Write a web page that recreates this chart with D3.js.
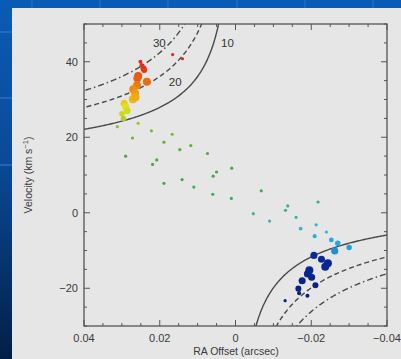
<!DOCTYPE html>
<html>
<head>
<meta charset="utf-8">
<script src="https://cdn.jsdelivr.net/npm/d3@7"></script>
<style>
  html, body { margin: 0; padding: 0; background: #0558b0; }
  svg { display: block; font-family: "Liberation Sans", Arial, sans-serif; }
</style>
</head>
<body>
<svg id="chart" width="401" height="359"></svg>
<script>
// RA offset (arcsec) of each spot
var raOffset = [
  0.0251, 0.0248, 0.0243, 0.0241, 0.0166, 0.0140,
  0.0257, 0.0259, 0.0234, 0.0260, 0.0270, 0.0265, 0.0271, 0.0264,
  0.0294, 0.0290, 0.0286, 0.0300, 0.0296,
  0.0312, 0.0257, 0.0222, 0.0272, 0.0167, 0.0189, 0.0290, 0.0147, 0.0118,
  0.0219, 0.0208, 0.0074, 0.0189, 0.0141, 0.0110, 0.0059, 0.0050, 0.0010,
  0.0060, 0.0011, -0.0068,
  -0.0047, -0.0090, -0.0132, -0.0138, -0.0218, -0.0160, -0.0172, -0.0213,
  -0.0209, -0.0240, -0.0253, -0.0270, -0.0300, -0.0262,
  -0.0207, -0.0227, -0.0244, -0.0237, -0.0195, -0.0190, -0.0201, -0.0176,
  -0.0211, -0.0166, -0.0168, -0.0190, -0.0131
];
// line-of-sight velocity (km/s)
var velocity = [
  40.0, 39.1, 38.3, 37.8, 41.9, 40.8,
  36.2, 35.6, 34.7, 33.8, 32.7, 31.6, 30.05, 30.6,
  29.0, 28.1, 27.0, 26.2, 25.0,
  22.8, 23.7, 21.7, 19.8, 20.8, 18.7, 15.0, 16.7, 17.8,
  12.8, 14.0, 15.7, 7.8, 8.8, 6.8, 9.7, 10.8, 11.8,
  4.9, 3.8, 5.8,
  -0.25, -2.2, 0.65, 1.8, 2.85, -1.2, -4.2, -3.2,
  -6.2, -5.1, -7.2, -8.1, -9.2, -10.1,
  -11.3, -12.3, -13.4, -14.3, -15.2, -16.2, -17.1, -18.0,
  -19.2, -20.1, -21.3, -22.0, -23.3
];
// relative spot brightness (drives marker area)
var brightness = [
  1.5, 1.5, 3, 3, 1, 1,
  5, 5, 5, 5, 5, 5, 5, 5,
  4, 4, 4, 2.5, 2.5,
  1, 1, 1, 1, 1, 1, 1, 1, 1,
  1, 1, 1, 1, 1, 1, 1, 1, 1,
  1, 1, 1,
  1, 1, 1, 1, 1, 1, 1.3, 1,
  1.5, 1, 2, 2.5, 2.5, 4,
  4, 4, 5, 5, 5, 4, 4, 4,
  3, 3, 1.5, 1.5, 1
];

// enclosed-mass curves (labels) and Keplerian amplitude per curve
var curveMass = [10, 20, 30];
var curveK = [2.8, 3.96, 4.85];
var curveDash = [null, "5,3", "6,3,1.5,3"];
var vSys = 8.1;

var xTicks = [0.04, 0.02, 0, -0.02, -0.04];
var yTicks = [-20, 0, 20, 40];

(function() {
  var svg = d3.select("#chart");
  var W = 401, H = 359;

  // slide background
  var defs = svg.append("defs");
  var bg = defs.append("linearGradient").attr("id", "bg").attr("x1", 0).attr("y1", 0).attr("x2", 0).attr("y2", 1);
  bg.append("stop").attr("offset", "0%").attr("stop-color", "#0a5cb6");
  bg.append("stop").attr("offset", "45%").attr("stop-color", "#0a4a98");
  bg.append("stop").attr("offset", "100%").attr("stop-color", "#031f45");
  svg.append("rect").attr("width", W).attr("height", H).attr("fill", "url(#bg)");
  [32, 100, 168, 237, 305, 373].forEach(function(xx) {
    svg.append("line").attr("x1", xx).attr("x2", xx).attr("y1", 0).attr("y2", 8)
      .attr("stroke", "#2a74c4").attr("stroke-width", 1);
  });
  [32, 98, 165].forEach(function(yy) {
    svg.append("line").attr("x1", 0).attr("x2", 12).attr("y1", yy).attr("y2", yy)
      .attr("stroke", "#3a80cc").attr("stroke-width", 1);
  });
  svg.append("rect").attr("x", 12).attr("y", 8).attr("width", W - 12).attr("height", H - 8)
    .attr("fill", "#e6e6e6");

  var pL = 84, pR = 387, pT = 24, pB = 326;
  var x = d3.scaleLinear().domain([0.04, -0.04]).range([pL, pR]);
  var y = d3.scaleLinear().domain([-30, 50]).range([pB, pT]);
  var r = d3.scaleSqrt().domain([1, 5]).range([1.6, 4]);
  var color = d3.scaleLinear()
    .domain([-23, -10.8, -10, -5, 0, 5, 15, 22, 25, 28, 31, 35, 38, 42])
    .range(["#0a1e80", "#0a2a96", "#1e9ee2", "#30b4d4", "#3ab498", "#40a850", "#4cab3c",
            "#7cbc2c", "#b8d01c", "#e4e21c", "#f0a412", "#ea6a10", "#e4341a", "#e02418"])
    .clamp(true);

  svg.append("clipPath").attr("id", "clip").append("rect")
    .attr("x", pL).attr("y", pT).attr("width", pR - pL).attr("height", pB - pT);

  // Keplerian curves
  var plot = svg.append("g").attr("clip-path", "url(#clip)");
  var line = d3.line().x(function(d) { return x(d[0]); }).y(function(d) { return y(d[1]); });
  curveK.forEach(function(K, i) {
    var upper = [], lower = [];
    for (var dx = 0.0005; dx <= 0.0405; dx += 0.00025) {
      upper.push([dx, vSys + K / Math.sqrt(dx)]);
      lower.push([-dx, vSys - K / Math.sqrt(dx)]);
    }
    [upper, lower].forEach(function(pts) {
      plot.append("path").attr("d", line(pts))
        .attr("fill", "none").attr("stroke", "#4a4a4a").attr("stroke-width", 1.4)
        .attr("stroke-dasharray", curveDash[i]);
    });
  });

  // spots
  var idx = d3.range(raOffset.length);
  plot.selectAll("circle.spot").data(idx).enter().append("circle")
    .attr("class", "spot")
    .attr("cx", function(i) { return x(raOffset[i]); })
    .attr("cy", function(i) { return y(velocity[i]); })
    .attr("r", function(i) { return r(brightness[i]); })
    .attr("fill", function(i) { return color(velocity[i]); });

  // curve labels
  var labelPos = { 30: [0.0218, 43.9], 20: [0.0176, 33.6], 10: [0.0038, 43.9] };
  curveMass.forEach(function(m) {
    svg.append("text").attr("x", x(labelPos[m][0])).attr("y", y(labelPos[m][1]))
      .attr("font-size", 11.5).attr("fill", "#333").text(m);
  });

  // frame and ticks
  var axisG = svg.append("g").attr("stroke", "#555");
  axisG.append("rect").attr("x", pL).attr("y", pT).attr("width", pR - pL).attr("height", pB - pT)
    .attr("fill", "none").attr("stroke-width", 1.3);
  d3.range(0, 17).forEach(function(k) {
    var v = 0.04 - k * 0.005;
    var len = k % 4 === 0 ? 6 : 3;
    axisG.append("line").attr("x1", x(v)).attr("x2", x(v)).attr("y1", pB).attr("y2", pB - len);
    axisG.append("line").attr("x1", x(v)).attr("x2", x(v)).attr("y1", pT).attr("y2", pT + len);
  });
  d3.range(-30, 50.1, 5).forEach(function(v) {
    var len = v % 20 === 0 ? 6 : 3;
    axisG.append("line").attr("y1", y(v)).attr("y2", y(v)).attr("x1", pL).attr("x2", pL + len);
    axisG.append("line").attr("y1", y(v)).attr("y2", y(v)).attr("x1", pR).attr("x2", pR - len);
  });

  // tick labels
  svg.selectAll("text.xt").data(xTicks).enter().append("text")
    .attr("class", "xt")
    .attr("x", function(d) { return x(d); }).attr("y", 342)
    .attr("text-anchor", "middle").attr("font-size", 11).attr("fill", "#3a3a3a")
    .text(function(d) { return d === 0 ? "0" : d3.format(".2f")(d).replace("-", "\u2212"); });
  svg.selectAll("text.yt").data(yTicks).enter().append("text")
    .attr("class", "yt")
    .attr("x", 78).attr("y", function(d) { return y(d) + 4; })
    .attr("text-anchor", "end").attr("font-size", 11).attr("fill", "#3a3a3a")
    .text(function(d) { return String(d).replace("-", "\u2212"); });

  // axis titles
  svg.append("text").attr("x", 236).attr("y", 355).attr("text-anchor", "middle")
    .attr("font-size", 10.5).attr("fill", "#3a3a3a").text("RA Offset (arcsec)");
  var yt = svg.append("text").attr("transform", "translate(32,175) rotate(-90)")
    .attr("text-anchor", "middle").attr("font-size", 10.5).attr("fill", "#3a3a3a");
  yt.append("tspan").text("Velocity (km s");
  yt.append("tspan").attr("dy", -4).attr("font-size", 7.5).text("\u22121");
  yt.append("tspan").attr("dy", 4).text(")");
})();
</script>
</body>
</html>
